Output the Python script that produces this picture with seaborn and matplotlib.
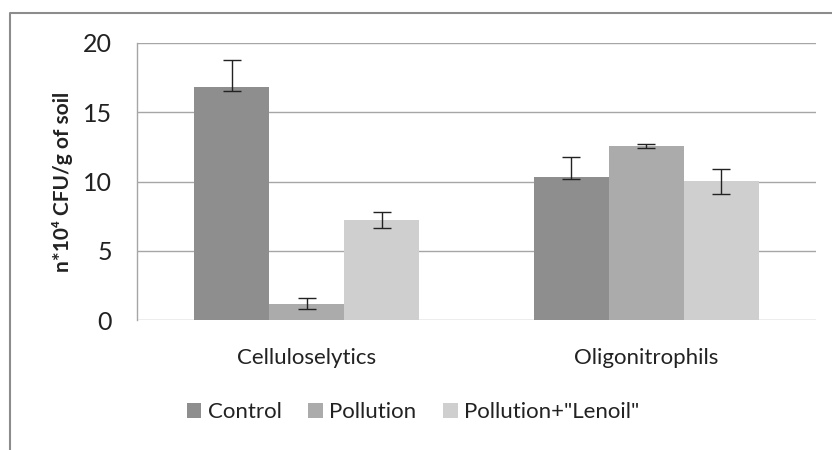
import pandas as pd
import matplotlib
matplotlib.use("Agg")
import matplotlib.pyplot as plt
import seaborn as sns
from matplotlib.lines import Line2D

# Dados
grupos = ["Celluloselytics", "Oligonitrophils"]
tratamentos = ["Control", "Pollution", 'Pollution+"Lenoil"']
valores = {
    "Control": [16.85, 10.3],
    "Pollution": [1.18, 12.55],
    'Pollution+"Lenoil"': [7.22, 10.02],
}
erro_inferior = {
    "Control": [0.35, 0.15],
    "Pollution": [0.42, 0.14],
    'Pollution+"Lenoil"': [0.56, 0.9],
}
erro_superior = {
    "Control": [1.9, 1.48],
    "Pollution": [0.42, 0.14],
    'Pollution+"Lenoil"': [0.6, 0.9],
}
cores = ["#8e8e8e", "#ababab", "#cfcfcf"]

linhas = []
for t in tratamentos:
    for g, v in zip(grupos, valores[t]):
        linhas.append({"Grupo": g, "Tratamento": t, "Valor": v})
df = pd.DataFrame(linhas)

sns.set_style("white")
plt.rcParams["font.family"] = ["Lato", "DejaVu Sans"]

fig = plt.figure(figsize=(8.32, 4.5), dpi=100)
ax = fig.add_axes([137 / 832, 1 - 320 / 450, (816 - 137) / 832, (320 - 43) / 450])

sns.barplot(data=df, x="Grupo", y="Valor", hue="Tratamento", order=grupos,
            hue_order=tratamentos, palette=cores, width=0.663, errorbar=None,
            saturation=1, linewidth=0, legend=True, ax=ax)

# Barras de erro assimétricas
for cont, t in zip(ax.containers, tratamentos):
    xs = [p.get_x() + p.get_width() / 2 for p in cont.patches]
    ys = [p.get_height() for p in cont.patches]
    ax.errorbar(xs, ys, yerr=[erro_inferior[t], erro_superior[t]], fmt="none",
                ecolor="#222222", elinewidth=1, capsize=6.5, capthick=1, zorder=5)

ax.set_xlim(-0.5, 1.5)
ax.set_ylim(0, 20)
ax.set_yticks([0, 5, 10, 15, 20])
ax.yaxis.grid(True, color="#a6a6a6", linewidth=1)
ax.set_axisbelow(True)
for lado in ["top", "right", "bottom"]:
    ax.spines[lado].set_visible(False)
ax.spines["left"].set_color("#a6a6a6")
ax.spines["left"].set_linewidth(1)
ax.tick_params(axis="y", length=7, color="#a6a6a6", labelsize=18, pad=11, labelcolor="#222222")
ax.tick_params(axis="x", length=0, labelsize=16, pad=20, labelcolor="#222222")
ax.set_xlabel("")
ax.set_ylabel("n*10⁴ CFU/g of soil", fontsize=15, fontweight="bold", color="#222222")
ax.yaxis.set_label_coords((73 - 137) / 679, 0.5)

handles, labels = ax.get_legend_handles_labels()
ax.get_legend().remove()
fig.legend(handles, labels, loc="center", bbox_to_anchor=(413 / 832, 1 - 412 / 450), ncol=3,
           frameon=False, fontsize=16, handlelength=0.65, handleheight=0.65,
           handletextpad=0.3, columnspacing=1.2, labelcolor="#222222")

# Moldura parcial da figura
fig.add_artist(Line2D([10 / 832, 10 / 832, 1], [0, 1 - 13 / 450, 1 - 13 / 450],
                      transform=fig.transFigure, color="#8c8c8c", linewidth=1.5))

fig.savefig("out.png", dpi=100)
